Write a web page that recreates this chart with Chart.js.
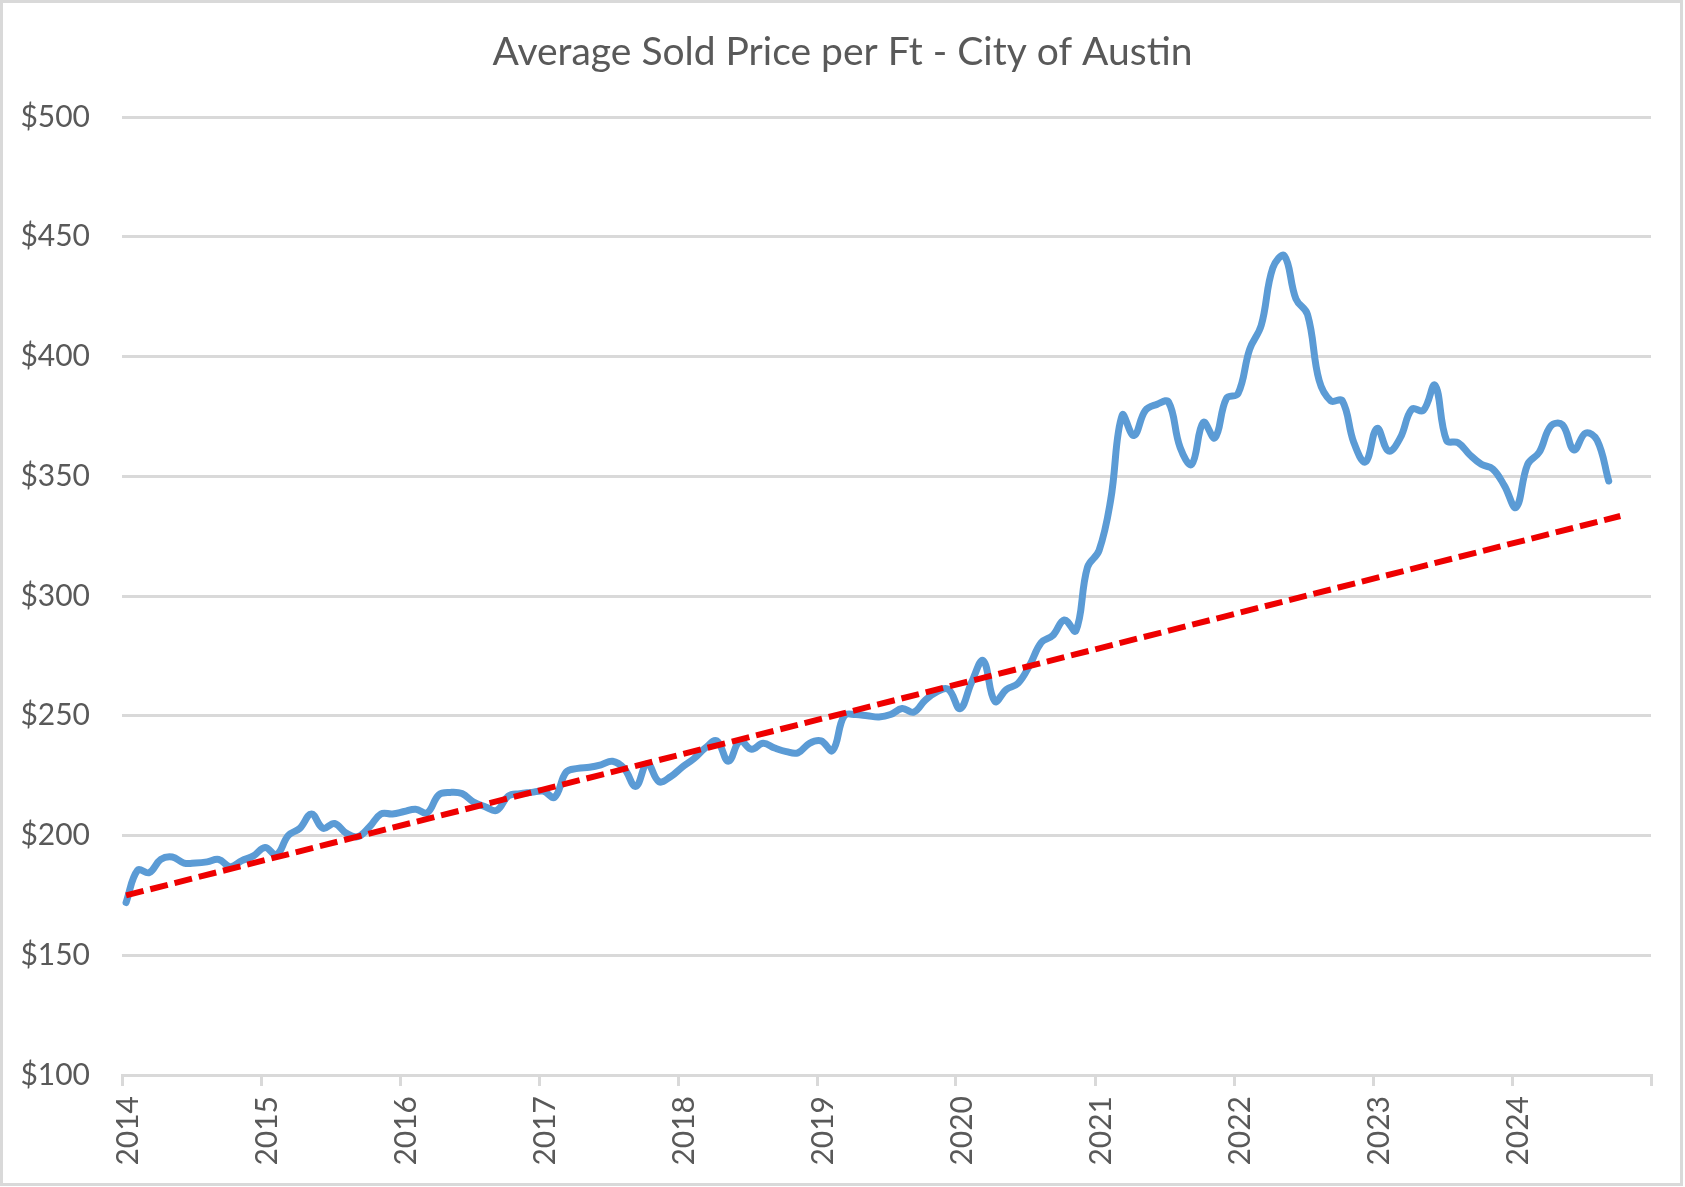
<!DOCTYPE html>
<html>
<head>
<meta charset="utf-8">
<title>Average Sold Price per Ft - City of Austin</title>
<script src="https://cdn.jsdelivr.net/npm/chart.js@4/dist/chart.umd.min.js"></script>
<style>
  html, body { margin: 0; padding: 0; background: #fff; }
  canvas { display: block; }
</style>
</head>
<body>
<canvas id="chart" width="1685" height="1187"></canvas>
<script>
// monthly average sold price per sq ft
const years = [2014, 2015, 2016, 2017, 2018, 2019, 2020, 2021, 2022, 2023, 2024];
const price2014 = [172, 185.5, 184.5, 190, 191, 188.5, 188.5, 189, 190, 187, 189.5, 191.5];
const price2015 = [195, 192, 200, 203, 209, 203, 205, 201, 199.5, 203.5, 209, 209];
const price2016 = [210, 211, 209.5, 217, 218, 217.5, 214, 212, 210.5, 216.5, 217.5, 218];
const price2017 = [218.5, 216, 226.5, 228, 228.5, 229.5, 231, 228, 220.5, 230, 222.5, 224.5];
const price2018 = [228.5, 232, 236.5, 239.5, 231, 239.5, 236, 238.5, 236.5, 235, 234.5, 238.5];
const price2019 = [239.5, 235.5, 250, 250.5, 250, 249.5, 250.5, 253, 251.5, 256.5, 260, 261];
const price2020 = [253, 264, 273, 256, 261, 263.5, 271, 280.5, 283.5, 290, 285.5, 312];
const price2021 = [319, 340, 375.5, 367, 377.5, 380, 381, 362, 355, 372.5, 366, 382.5];
const price2022 = [384.5, 403, 413, 437, 442, 424, 417.5, 390, 381.5, 381.5, 364, 356];
const price2023 = [370, 360.5, 366, 378, 377.5, 388, 365, 364, 359, 355, 353, 346];
const price2024 = [337, 355, 360, 371, 371.5, 361, 368, 365, 348];
const pricesByYear = [price2014, price2015, price2016, price2017, price2018, price2019,
  price2020, price2021, price2022, price2023, price2024];

// linear trend line (Excel style, one period forecast)
const trendYears = [2014, 2024];
const trendMonths = [0, 9];
const trendValues = [175, 333.4];

const yTicks = [100, 150, 200, 250, 300, 350, 400, 450, 500];
const xTicks = [2014, 2015, 2016, 2017, 2018, 2019, 2020, 2021, 2022, 2023, 2024, 2025];

const chartTitle = 'Average Sold Price per Ft - City of Austin';

// samples are dated around the 11th of each month
const dayFraction = 0.35;
const toX = (year, month) => year + (month + dayFraction) / 12;

const pricePoints = [];
pricesByYear.forEach((vals, yi) => {
  vals.forEach((v, m) => pricePoints.push({ x: toX(years[yi], m), y: v }));
});
const trendPoints = trendValues.map((v, i) => ({ x: toX(trendYears[i], trendMonths[i]), y: v }));

const GRAY = '#d9d9d9';
const TEXT = '#595959';

// chart-area border and a title centred on the whole canvas, like Excel does
const frame = {
  id: 'frame',
  beforeDraw(chart) {
    const { ctx, width, height } = chart;
    ctx.save();
    ctx.fillStyle = '#fff';
    ctx.fillRect(0, 0, width, height);
    ctx.strokeStyle = GRAY;
    ctx.lineWidth = 3;
    ctx.strokeRect(1.5, 1.5, width - 5, height - 4);
    ctx.fillStyle = TEXT;
    ctx.font = '39px Lato';
    ctx.textAlign = 'center';
    ctx.textBaseline = 'middle';
    ctx.fillText(chartTitle, width / 2, 52);
    ctx.restore();
  }
};

new Chart(document.getElementById('chart'), {
  type: 'line',
  data: {
    datasets: [
      {
        label: 'Trend',
        data: trendPoints,
        borderColor: '#ee0000',
        borderWidth: 6,
        borderDash: [18, 7],
        borderCapStyle: 'butt',
        pointRadius: 0,
        tension: 0,
        order: 0
      },
      {
        label: 'Avg Sold Price per Ft',
        data: pricePoints,
        borderColor: '#5b9bd5',
        borderWidth: 7,
        borderCapStyle: 'round',
        borderJoinStyle: 'round',
        pointRadius: 0,
        tension: 0.4,
        order: 1
      }
    ]
  },
  options: {
    responsive: false,
    devicePixelRatio: 1,
    animation: false,
    layout: { padding: { left: 0, right: 34, top: 117, bottom: 0 } },
    plugins: {
      legend: { display: false },
      tooltip: { enabled: false },
      title: { display: false }
    },
    scales: {
      x: {
        type: 'linear',
        min: xTicks[0],
        max: xTicks[xTicks.length - 1],
        afterBuildTicks: scale => { scale.ticks = xTicks.map(v => ({ value: v })); },
        afterFit: scale => {
          scale.height = 112;
          scale.paddingLeft = 0;
          scale.paddingRight = 0;
        },
        border: { display: true, color: GRAY, width: 3 },
        grid: { drawOnChartArea: false, drawTicks: true, tickLength: 11, color: GRAY, lineWidth: 3 },
        ticks: {
          color: TEXT,
          font: { family: 'Lato', size: 30 },
          minRotation: 90,
          maxRotation: 90,
          padding: 10,
          labelOffset: 6,
          callback: v => (v === 2025 ? '' : String(v))
        }
      },
      y: {
        min: yTicks[0],
        max: yTicks[yTicks.length - 1],
        afterBuildTicks: scale => { scale.ticks = yTicks.map(v => ({ value: v })); },
        afterFit: scale => {
          scale.width = 122;
          scale.paddingTop = 0;
          scale.paddingBottom = 0;
        },
        border: { display: false },
        grid: { drawTicks: false, color: GRAY, lineWidth: 3 },
        ticks: {
          color: TEXT,
          font: { family: 'Lato', size: 30 },
          padding: 32,
          callback: v => '$' + v
        }
      }
    }
  },
  plugins: [frame]
});
</script>
</body>
</html>
